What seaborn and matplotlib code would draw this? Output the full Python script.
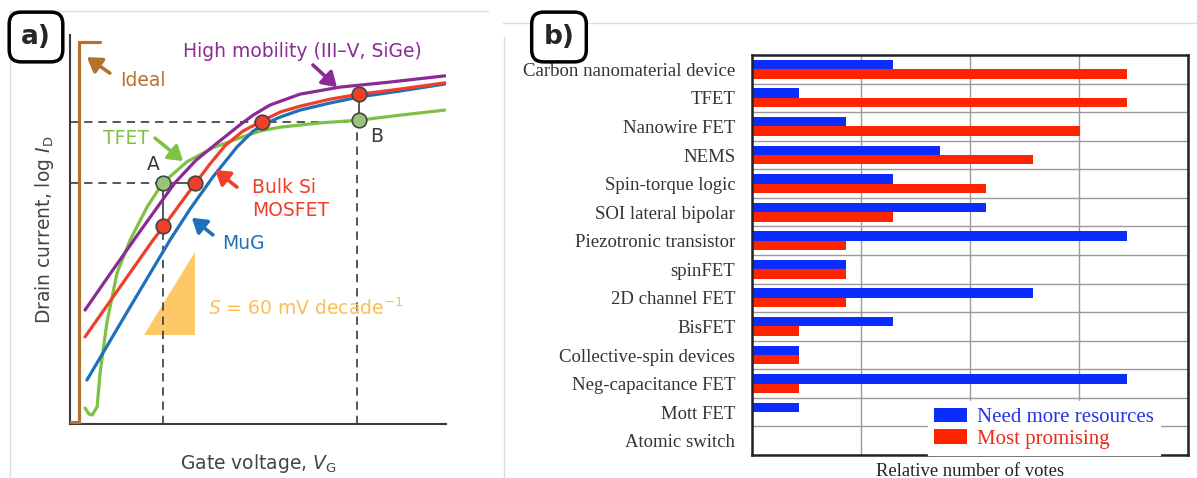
import numpy as np
import pandas as pd
import matplotlib.pyplot as plt
import seaborn as sns
from matplotlib.lines import Line2D
from matplotlib.patches import Polygon, Patch

# ---- panel a: schematic transfer curves (arbitrary units) ----
ideal_x = [0.0, 0.24, 0.24, 0.80]
ideal_y = [0.05, 0.05, 9.82, 9.82]

himob_x = [0.40, 1.06, 1.86, 2.79, 3.35, 3.91, 4.52, 4.87, 5.32, 6.12, 7.18, 8.51, 9.97]
himob_y = [2.93, 3.85, 4.95, 6.20, 6.78, 7.22, 7.69, 7.94, 8.20, 8.48, 8.66, 8.79, 8.95]

bulk_x = [0.40, 1.33, 2.21, 2.50, 2.93, 3.32, 3.72, 4.12, 4.60, 5.11, 5.59, 6.12, 6.91, 7.71, 8.78, 9.97]
bulk_y = [2.24, 3.52, 4.73, 5.09, 5.66, 6.17, 6.68, 7.15, 7.53, 7.79, 8.02, 8.17, 8.35, 8.48, 8.61, 8.77]

mug_x = [0.45, 1.60, 2.66, 3.19, 3.80, 4.44, 4.87, 5.24, 5.59, 6.12, 6.91, 7.71, 8.78, 9.97]
mug_y = [1.13, 3.01, 4.73, 5.52, 6.35, 7.12, 7.53, 7.74, 7.89, 8.07, 8.25, 8.41, 8.56, 8.74]

tfet_x = [0.40, 0.50, 0.59, 0.72, 0.80, 0.98, 1.25, 1.60, 2.05, 2.47, 3.11, 3.80, 4.44,
          5.05, 5.59, 6.65, 7.69, 8.78, 9.97]
tfet_y = [0.41, 0.26, 0.23, 0.44, 1.31, 2.60, 3.88, 4.73, 5.58, 6.20, 6.74, 7.10, 7.33,
          7.53, 7.63, 7.74, 7.81, 7.94, 8.07]

slope_x = [1.97, 3.32, 3.32]
slope_y = [2.29, 2.29, 4.42]

# operating points A and B
point_a = (2.47, 6.20)
point_b = (7.69, 7.81)
red_dots_x = [3.32, 2.47, 5.11, 7.69]
red_dots_y = [6.20, 5.09, 7.76, 8.48]

# ---- panel b: survey votes ----
devices = ["Carbon nanomaterial device", "TFET", "Nanowire FET", "NEMS",
           "Spin-torque logic", "SOI lateral bipolar", "Piezotronic transistor",
           "spinFET", "2D channel FET", "BisFET", "Collective-spin devices",
           "Neg-capacitance FET", "Mott FET", "Atomic switch"]
need_more = [3, 1, 2, 4, 3, 5, 8, 2, 6, 3, 1, 8, 1, 0]
promising = [8, 8, 7, 6, 5, 3, 2, 2, 2, 1, 1, 1, 0, 0]
groups = ["Need more resources", "Most promising"]

sns.set_theme(style="white")
plt.rcParams["font.family"] = ["DejaVu Sans"]

W, H = 1197, 478
fig = plt.figure(figsize=(W / 100, H / 100), dpi=100)

purple, red, blue, green = "#8b2a96", "#ef3f28", "#1f6fba", "#7dc243"
brown, orange, dark = "#b5722f", "#fdc868", "#3a3a3a"

# ================= panel a =================
ax = fig.add_axes([70 / W, 54 / H, 376 / W, 389 / H])
ax.set_xlim(0, 10)
ax.set_ylim(0, 10)
ax.set_xticks([])
ax.set_yticks([])
for s in ["top", "right"]:
    ax.spines[s].set_visible(False)
for s in ["left", "bottom"]:
    ax.spines[s].set_color(dark)
    ax.spines[s].set_linewidth(1.5)

ax.add_patch(Polygon(list(zip(slope_x, slope_y)), closed=True, fc=orange, ec="none", zorder=1))

dash = dict(color=dark, lw=1.2, ls=(0, (5, 3.5)), zorder=2)
ax.plot([0, point_a[0]], [point_a[1]] * 2, **dash)
ax.plot([point_a[0]] * 2, [0, red_dots_y[1]], **dash)
ax.plot([0, point_b[0]], [red_dots_y[2], red_dots_y[2]], **dash)
ax.plot([point_b[0] - 0.06] * 2, [0, point_b[1]], **dash)
ax.plot([point_a[0], red_dots_x[0]], [point_a[1]] * 2, color=dark, lw=1.2, zorder=2)
ax.plot([point_a[0]] * 2, [red_dots_y[1], point_a[1]], color=dark, lw=1.2, zorder=2)
ax.plot([point_b[0]] * 2, [point_b[1], red_dots_y[3]], color=dark, lw=1.2, zorder=2)

lw = 2.3
ax.plot(ideal_x, ideal_y, color=brown, lw=lw, solid_joinstyle="miter", zorder=3)
ax.plot(tfet_x, tfet_y, color=green, lw=lw, solid_joinstyle="round", zorder=3)
ax.plot(mug_x, mug_y, color=blue, lw=lw, solid_joinstyle="round", zorder=4)
ax.plot(bulk_x, bulk_y, color=red, lw=lw, solid_joinstyle="round", zorder=5)
ax.plot(himob_x, himob_y, color=purple, lw=lw, solid_joinstyle="round", zorder=6)

ax.scatter(red_dots_x, red_dots_y, s=110, color=red, edgecolor="#444444", lw=1.2, zorder=8)
ax.scatter([point_a[0], point_b[0]], [point_a[1], point_b[1]], s=110, color="#98c47a",
           edgecolor="#444444", lw=1.2, zorder=8)


def arrow(tail, tip, c):
    ax.annotate("", xy=tip, xytext=tail,
                arrowprops=dict(arrowstyle="-|>,head_length=0.7,head_width=0.45",
                                color=c, lw=2.6, shrinkA=0, shrinkB=0), zorder=9)


fs = 13.5
ax.text(3.01, 9.58, "High mobility (III–V, SiGe)", color=purple, fontsize=fs, va="center")
arrow((6.46, 9.23), (7.10, 8.66), purple)
ax.text(1.33, 8.84, "Ideal", color=brown, fontsize=fs, va="center")
arrow((1.06, 9.02), (0.45, 9.43), brown)
ax.text(0.88, 7.35, "TFET", color=green, fontsize=fs, va="center")
arrow((2.26, 7.35), (3.01, 6.76), green)
ax.text(2.21, 6.66, "A", color=dark, fontsize=fs, ha="center", va="center")
ax.text(8.16, 7.38, "B", color=dark, fontsize=fs, ha="center", va="center")
ax.text(4.84, 6.09, "Bulk Si", color=red, fontsize=fs, va="center")
ax.text(4.84, 5.48, "MOSFET", color=red, fontsize=fs, va="center")
arrow((4.44, 6.09), (3.86, 6.53), red)
ax.text(4.04, 4.65, "MuG", color=blue, fontsize=fs, va="center")
arrow((3.80, 4.86), (3.24, 5.30), blue)
ax.text(3.67, 2.98, r"$S$ = 60 mV decade$^{-1}$", color="#fbbf55", fontsize=fs, va="center")

ax.set_ylabel(r"Drain current, log $I_\mathrm{D}$", fontsize=fs, color="#444444", labelpad=10)
ax.set_xlabel(r"Gate voltage, $V_\mathrm{G}$", fontsize=fs, color="#444444", labelpad=20)

# ================= panel b =================
axb = fig.add_axes([752 / W, 23 / H, 436 / W, 400 / H])
df = pd.DataFrame({
    "device": devices * 2,
    "votes": need_more + promising,
    "group": [groups[0]] * len(devices) + [groups[1]] * len(devices),
})
bar_colors = ["#0b2cff", "#ff2400"]
sns.barplot(data=df, y="device", x="votes", hue="group", hue_order=groups,
            palette=bar_colors, orient="h", width=0.66, saturation=1,
            linewidth=0, legend=False, ax=axb)

xmax = 9.3
axb.set_xlim(0, xmax)
axb.set_ylim(len(devices) - 0.5, -0.5)
axb.set_axisbelow(True)
axb.set_xticks(np.arange(5) * xmax / 4)
axb.set_xticklabels([])
axb.set_yticks(np.arange(len(devices)) + 0.5, minor=True)
axb.grid(True, axis="x", which="major", color="#9a9a9a", lw=1)
axb.grid(True, axis="y", which="minor", color="#9a9a9a", lw=1)
axb.tick_params(axis="x", length=0)
axb.tick_params(axis="y", which="major", length=0, pad=12)
axb.tick_params(axis="y", which="minor", direction="in", length=4, width=1.5, color="#333333")
for lab in axb.get_yticklabels():
    lab.set_family(["Liberation Serif"])
    lab.set_fontsize(13.5)
    lab.set_color("#333333")
for s in axb.spines.values():
    s.set_visible(True)
    s.set_color("#222222")
    s.set_linewidth(1.8)
axb.set_ylabel("")
axb.set_xlabel("Relative number of votes", family=["Liberation Serif"], fontsize=13.4,
               color="#222222", labelpad=2)

handles = [Patch(fc=c, ec="none") for c in bar_colors]
leg = axb.legend(handles, groups, loc="lower right", bbox_to_anchor=(0.936, 0.0),
                 borderaxespad=0, frameon=True, fancybox=False, framealpha=1,
                 facecolor="white", edgecolor="white", prop={"family": "Liberation Serif", "size": 15},
                 handlelength=1.55, handleheight=0.7, handletextpad=0.5, labelspacing=0.1,
                 borderpad=0.3)
for t, c in zip(leg.get_texts(), ["#2233ee", "#ee2a1a"]):
    t.set_color(c)

# ---- screenshot decorations: panel tags and thin separators ----
for (x0, y0, x1, y1) in [(10, 11, 488, 11), (10, 11, 10, 478), (503, 23, 1197, 23), (504, 37, 504, 478)]:
    fig.add_artist(Line2D([x0 / W, x1 / W], [1 - y0 / H, 1 - y1 / H], color="#dddddd", lw=1))

for tag, cx in [("a)", 36), ("b)", 559)]:
    fig.text(cx / W, 1 - 37 / H, tag, fontsize=19, fontweight="bold", ha="center", va="center",
             bbox=dict(boxstyle="round,pad=0.45,rounding_size=0.45", fc="white", ec="black", lw=2.5))

fig.savefig("out.png", dpi=100)
